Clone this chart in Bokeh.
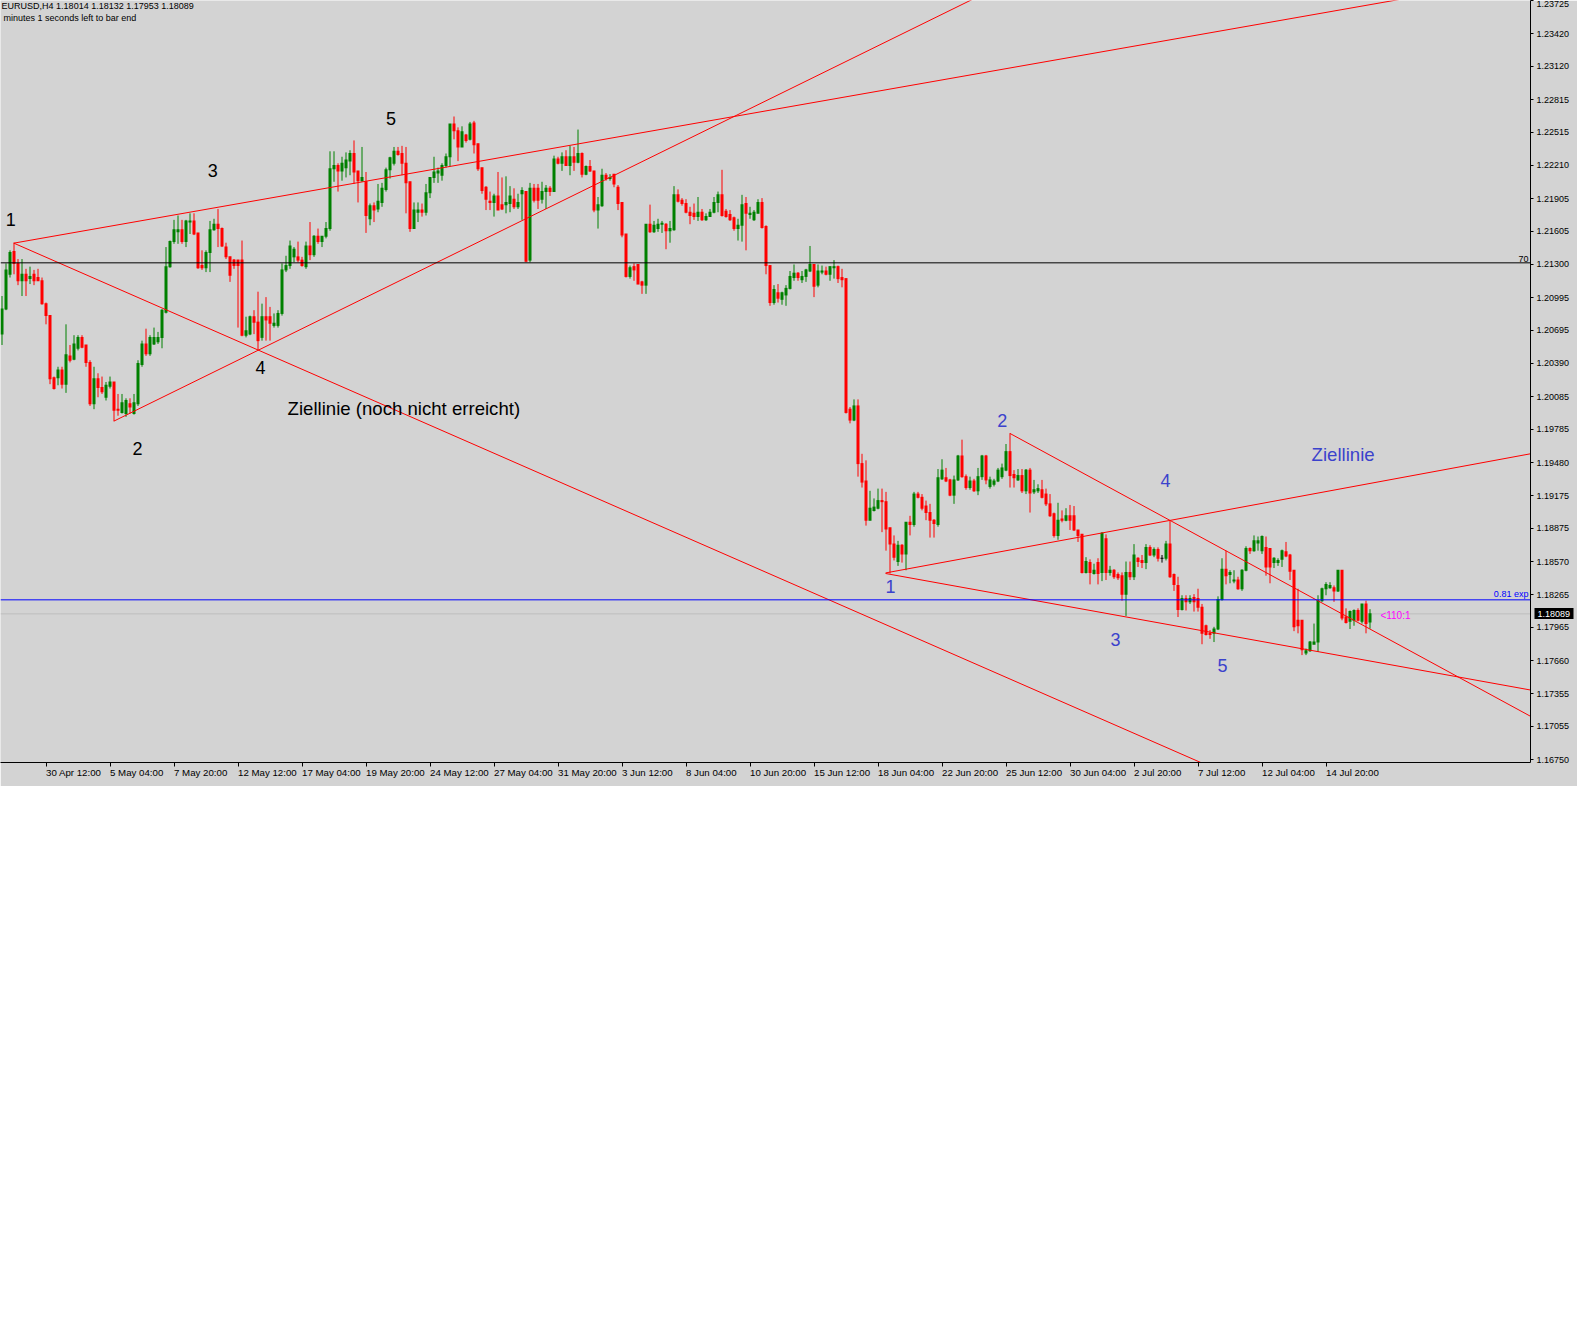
import numpy as np
from bokeh.plotting import figure
from bokeh.models import Range1d, FixedTicker, PrintfTickFormatter, Span, LinearAxis
from bokeh.core.properties import value
from bokeh.embed import file_html
from bokeh.resources import INLINE

# ---------------- data: EURUSD H4 candles (bar index 0..342) ----------------
opens = [
1.2066,1.2089,1.2121,1.2142,1.2131,1.2115,1.2121,1.2117,1.2121,1.2118,
1.2115,1.2094,1.2083,1.2026,1.2026,1.2033,1.2020,1.2046,1.2043,1.2053,
1.2063,1.2056,1.2040,1.2002,1.2025,1.2017,1.2008,1.2018,1.2022,1.1997,
1.1994,1.1993,1.2002,1.1993,1.2002,1.2038,1.2057,1.2048,1.2057,1.2059,
1.2063,1.2086,1.2128,1.2151,1.2160,1.2162,1.2151,1.2169,1.2170,1.2159,
1.2129,1.2127,1.2141,1.2162,1.2167,1.2163,1.2146,1.2137,1.2134,1.2134,
1.2134,1.2065,1.2066,1.2082,1.2077,1.2063,1.2082,1.2082,1.2074,1.2074,
1.2085,1.2125,1.2129,1.2137,1.2137,1.2134,1.2128,1.2147,1.2139,1.2156,
1.2151,1.2156,1.2163,1.2218,1.2221,1.2216,1.2219,1.2225,1.2232,1.2216,
1.2207,1.2206,1.2172,1.2184,1.2181,1.2187,1.2199,1.2217,1.2223,1.2234,
1.2232,1.2223,1.2206,1.2163,1.2178,1.2180,1.2178,1.2196,1.2210,1.2214,
1.2212,1.2221,1.2229,1.2259,1.2253,1.2238,1.2249,1.2245,1.2260,1.2241,
1.2219,1.2201,1.2188,1.2187,1.2193,1.2185,1.2185,1.2186,1.2190,1.2183,
1.2195,1.2197,1.2134,1.2200,1.2200,1.2190,1.2197,1.2200,1.2197,1.2227,
1.2223,1.2229,1.2221,1.2229,1.2224,1.2232,1.2213,1.2220,1.2216,1.2180,
1.2184,1.2212,1.2209,1.2213,1.2201,1.2187,1.2158,1.2119,1.2128,1.2130,
1.2114,1.2111,1.2167,1.2160,1.2163,1.2167,1.2167,1.2161,1.2162,1.2194,
1.2189,1.2186,1.2178,1.2177,1.2174,1.2178,1.2171,1.2174,1.2178,1.2187,
1.2194,1.2179,1.2176,1.2173,1.2163,1.2166,1.2186,1.2176,1.2171,1.2177,
1.2187,1.2165,1.2129,1.2095,1.2104,1.2098,1.2102,1.2108,1.2118,1.2122,
1.2116,1.2119,1.2124,1.2130,1.2111,1.2123,1.2124,1.2121,1.2127,1.2128,
1.2118,1.2117,1.1997,1.1987,1.2000,1.1947,1.1931,1.1895,1.1904,1.1906,
1.1913,1.1912,1.1888,1.1873,1.1857,1.1872,1.1864,1.1893,1.1891,1.1919,
1.1916,1.1908,1.1902,1.1895,1.1891,1.1933,1.1934,1.1932,1.1918,1.1932,
1.1954,1.1935,1.1925,1.1931,1.1922,1.1935,1.1954,1.1926,1.1928,1.1931,
1.1935,1.1941,1.1958,1.1937,1.1932,1.1936,1.1922,1.1941,1.1921,1.1922,
1.1923,1.1919,1.1910,1.1901,1.1881,1.1896,1.1895,1.1899,1.1899,1.1886,
1.1882,1.1847,1.1856,1.1846,1.1856,1.1847,1.1878,1.1847,1.1849,1.1845,
1.1844,1.1827,1.1847,1.1843,1.1860,1.1858,1.1856,1.1870,1.1863,1.1868,
1.1860,1.1860,1.1873,1.1845,1.1835,1.1813,1.1823,1.1820,1.1824,1.1823,
1.1815,1.1798,1.1791,1.1791,1.1795,1.1822,1.1850,1.1845,1.1839,1.1840,
1.1832,1.1849,1.1869,1.1867,1.1874,1.1867,1.1870,1.1869,1.1856,1.1856,
1.1859,1.1866,1.1863,1.1849,1.1803,1.1803,1.1773,1.1775,1.1781,1.1783,
1.1821,1.1832,1.1833,1.1833,1.1830,1.1849,1.1806,1.1802,1.1803,1.1812,
1.1802,1.1818,1.18014]
highs = [
1.2101,1.2131,1.2143,1.2150,1.2135,1.2135,1.2126,1.2128,1.2125,1.2126,
1.2118,1.2095,1.2083,1.2027,1.2036,1.2036,1.2075,1.2056,1.2065,1.2065,
1.2065,1.2056,1.2042,1.2036,1.2030,1.2027,1.2022,1.2027,1.2022,1.2011,
1.2011,1.2007,1.2007,1.2011,1.2042,1.2060,1.2071,1.2065,1.2072,1.2068,
1.2089,1.2146,1.2152,1.2171,1.2175,1.2171,1.2171,1.2177,1.2177,1.2159,
1.2143,1.2143,1.2170,1.2172,1.2181,1.2164,1.2150,1.2137,1.2135,1.2134,
1.2152,1.2082,1.2083,1.2088,1.2105,1.2094,1.2100,1.2091,1.2085,1.2088,
1.2131,1.2138,1.2152,1.2146,1.2151,1.2137,1.2151,1.2169,1.2157,1.2163,
1.2156,1.2169,1.2234,1.2234,1.2223,1.2229,1.2233,1.2235,1.2244,1.2216,
1.2238,1.2215,1.2186,1.2187,1.2204,1.2205,1.2219,1.2229,1.2238,1.2238,
1.2239,1.2238,1.2206,1.2187,1.2187,1.2186,1.2204,1.2210,1.2229,1.2219,
1.2223,1.2232,1.2259,1.2266,1.2256,1.2257,1.2250,1.2261,1.2262,1.2241,
1.2219,1.2202,1.2197,1.2195,1.2215,1.2210,1.2211,1.2202,1.2200,1.2195,
1.2201,1.2197,1.2205,1.2204,1.2204,1.2206,1.2203,1.2202,1.2230,1.2229,
1.2233,1.2235,1.2239,1.2238,1.2254,1.2233,1.2221,1.2226,1.2216,1.2192,
1.2218,1.2214,1.2213,1.2213,1.2203,1.2187,1.2158,1.2129,1.2131,1.2130,
1.2115,1.2167,1.2185,1.2170,1.2172,1.2170,1.2168,1.2170,1.2202,1.2199,
1.2191,1.2190,1.2183,1.2186,1.2192,1.2181,1.2177,1.2181,1.2192,1.2197,
1.2217,1.2181,1.2180,1.2174,1.2172,1.2194,1.2192,1.2183,1.2180,1.2190,
1.2191,1.2166,1.2129,1.2111,1.2112,1.2105,1.2111,1.2124,1.2130,1.2123,
1.2124,1.2126,1.2147,1.2130,1.2130,1.2129,1.2128,1.2128,1.2134,1.2129,
1.2126,1.2117,1.1999,1.2006,1.2006,1.1956,1.1950,1.1922,1.1915,1.1924,
1.1924,1.1921,1.1888,1.1881,1.1876,1.1873,1.1893,1.1899,1.1921,1.1921,
1.1919,1.1913,1.1910,1.1896,1.1942,1.1951,1.1943,1.1933,1.1936,1.1955,
1.1969,1.1937,1.1935,1.1933,1.1943,1.1955,1.1955,1.1935,1.1933,1.1943,
1.1947,1.1965,1.1975,1.1941,1.1942,1.1942,1.1942,1.1943,1.1932,1.1928,
1.1932,1.1924,1.1919,1.1902,1.1911,1.1904,1.1906,1.1909,1.1908,1.1886,
1.1882,1.1861,1.1859,1.1855,1.1860,1.1884,1.1882,1.1853,1.1850,1.1847,
1.1847,1.1857,1.1857,1.1873,1.1861,1.1863,1.1873,1.1872,1.1870,1.1870,
1.1863,1.1876,1.1895,1.1846,1.1843,1.1826,1.1826,1.1826,1.1827,1.1832,
1.1818,1.1799,1.1794,1.1797,1.1825,1.1860,1.1867,1.1849,1.1849,1.1843,
1.1850,1.1871,1.1870,1.1881,1.1880,1.1881,1.1880,1.1869,1.1861,1.1860,
1.1868,1.1875,1.1864,1.1849,1.1832,1.1803,1.1777,1.1784,1.1800,1.1826,
1.1833,1.1838,1.1838,1.1835,1.1849,1.1849,1.1814,1.1812,1.1813,1.1814,
1.1818,1.1821,1.18132]
lows = [
1.2056,1.2088,1.2118,1.2121,1.2111,1.2101,1.2101,1.2112,1.2111,1.2115,
1.2093,1.2075,1.2020,1.2015,1.2019,1.2016,1.2012,1.2040,1.2042,1.2051,
1.2053,1.2036,1.2000,1.1997,1.2008,1.2011,1.2005,1.2016,1.1986,1.1991,
1.1993,1.1990,1.1993,1.1992,1.2000,1.2036,1.2046,1.2046,1.2056,1.2057,
1.2053,1.2085,1.2127,1.2149,1.2149,1.2149,1.2146,1.2158,1.2157,1.2126,
1.2125,1.2123,1.2123,1.2161,1.2146,1.2146,1.2135,1.2114,1.2126,1.2072,
1.2064,1.2063,1.2065,1.2066,1.2051,1.2060,1.2060,1.2060,1.2072,1.2072,
1.2083,1.2123,1.2126,1.2132,1.2132,1.2128,1.2126,1.2134,1.2137,1.2149,
1.2146,1.2154,1.2161,1.2206,1.2197,1.2207,1.2210,1.2212,1.2204,1.2187,
1.2206,1.2159,1.2166,1.2169,1.2178,1.2183,1.2197,1.2209,1.2221,1.2230,
1.2212,1.2177,1.2160,1.2163,1.2169,1.2174,1.2175,1.2191,1.2205,1.2205,
1.2207,1.2219,1.2220,1.2245,1.2225,1.2238,1.2242,1.2244,1.2232,1.2216,
1.2195,1.2180,1.2180,1.2174,1.2180,1.2180,1.2177,1.2178,1.2181,1.2181,
1.2171,1.2132,1.2132,1.2187,1.2181,1.2186,1.2181,1.2193,1.2197,1.2222,
1.2216,1.2221,1.2212,1.2216,1.2223,1.2210,1.2212,1.2215,1.2178,1.2163,
1.2183,1.2207,1.2207,1.2201,1.2180,1.2155,1.2118,1.2117,1.2115,1.2112,
1.2103,1.2103,1.2159,1.2159,1.2160,1.2159,1.2144,1.2150,1.2161,1.2187,
1.2184,1.2177,1.2167,1.2171,1.2170,1.2170,1.2170,1.2174,1.2177,1.2178,
1.2174,1.2173,1.2170,1.2161,1.2152,1.2151,1.2143,1.2172,1.2170,1.2177,
1.2163,1.2121,1.2092,1.2093,1.2095,1.2093,1.2092,1.2107,1.2115,1.2115,
1.2113,1.2114,1.2123,1.2100,1.2109,1.2121,1.2120,1.2115,1.2117,1.2113,
1.2109,1.1993,1.1984,1.1986,1.1935,1.1925,1.1890,1.1895,1.1903,1.1905,
1.1884,1.1867,1.1846,1.1858,1.1853,1.1856,1.1849,1.1881,1.1889,1.1915,
1.1904,1.1895,1.1879,1.1879,1.1889,1.1932,1.1930,1.1917,1.1910,1.1931,
1.1934,1.1923,1.1923,1.1921,1.1918,1.1932,1.1928,1.1924,1.1926,1.1930,
1.1933,1.1940,1.1925,1.1925,1.1931,1.1920,1.1919,1.1902,1.1919,1.1920,
1.1915,1.1908,1.1898,1.1879,1.1877,1.1893,1.1894,1.1886,1.1885,1.1875,
1.1846,1.1846,1.1836,1.1845,1.1836,1.1839,1.1840,1.1844,1.1841,1.1840,
1.1821,1.1807,1.1840,1.1840,1.1852,1.1851,1.1850,1.1862,1.1861,1.1857,
1.1856,1.1858,1.1842,1.1830,1.1806,1.1812,1.1812,1.1818,1.1811,1.1811,
1.1781,1.1789,1.1786,1.1783,1.1794,1.1821,1.1836,1.1837,1.1837,1.1831,
1.1830,1.1848,1.1864,1.1866,1.1867,1.1864,1.1844,1.1837,1.1851,1.1853,
1.1852,1.1861,1.1840,1.1793,1.1791,1.1771,1.1771,1.1774,1.1781,1.1774,
1.1820,1.1826,1.1832,1.1820,1.1829,1.1803,1.1800,1.1795,1.1798,1.1802,
1.1800,1.1791,1.17953]
closes = [
1.2089,1.2125,1.2141,1.2131,1.2115,1.2121,1.2115,1.2119,1.2115,1.2115,
1.2094,1.2083,1.2025,1.2016,1.2033,1.2020,1.2047,1.2042,1.2057,1.2063,
1.2054,1.2040,1.2002,1.2025,1.2017,1.2013,1.2019,1.2022,1.1996,1.1996,
1.2003,1.2005,1.1999,1.2003,1.2039,1.2057,1.2048,1.2063,1.2063,1.2063,
1.2088,1.2128,1.2151,1.2162,1.2162,1.2151,1.2170,1.2170,1.2158,1.2127,
1.2127,1.2141,1.2162,1.2167,1.2163,1.2147,1.2137,1.2120,1.2129,1.2129,
1.2065,1.2069,1.2082,1.2077,1.2060,1.2082,1.2079,1.2076,1.2076,1.2085,
1.2125,1.2129,1.2147,1.2144,1.2134,1.2129,1.2147,1.2139,1.2156,1.2151,
1.2156,1.2163,1.2218,1.2221,1.2216,1.2223,1.2226,1.2232,1.2215,1.2207,
1.2210,1.2175,1.2184,1.2180,1.2188,1.2200,1.2217,1.2228,1.2234,1.2231,
1.2223,1.2205,1.2163,1.2180,1.2180,1.2178,1.2196,1.2210,1.2215,1.2216,
1.2221,1.2229,1.2259,1.2253,1.2238,1.2252,1.2244,1.2259,1.2240,1.2218,
1.2198,1.2190,1.2187,1.2193,1.2180,1.2181,1.2187,1.2193,1.2183,1.2187,
1.2198,1.2133,1.2200,1.2189,1.2189,1.2197,1.2200,1.2197,1.2227,1.2223,
1.2229,1.2221,1.2229,1.2224,1.2232,1.2213,1.2220,1.2216,1.2180,1.2185,
1.2212,1.2209,1.2210,1.2204,1.2186,1.2157,1.2119,1.2127,1.2125,1.2112,
1.2111,1.2167,1.2160,1.2166,1.2167,1.2168,1.2161,1.2163,1.2194,1.2188,
1.2186,1.2178,1.2175,1.2174,1.2178,1.2171,1.2174,1.2178,1.2187,1.2194,
1.2175,1.2174,1.2171,1.2163,1.2166,1.2185,1.2177,1.2177,1.2178,1.2187,
1.2164,1.2129,1.2095,1.2107,1.2099,1.2104,1.2108,1.2119,1.2122,1.2118,
1.2119,1.2125,1.2130,1.2110,1.2124,1.2124,1.2121,1.2128,1.2128,1.2117,
1.2116,1.1994,1.1987,1.2000,1.1947,1.1930,1.1895,1.1906,1.1907,1.1913,
1.1912,1.1887,1.1873,1.1861,1.1872,1.1864,1.1893,1.1891,1.1919,1.1916,
1.1906,1.1902,1.1895,1.1892,1.1934,1.1941,1.1931,1.1918,1.1932,1.1954,
1.1935,1.1925,1.1931,1.1922,1.1935,1.1954,1.1932,1.1932,1.1931,1.1941,
1.1943,1.1958,1.1936,1.1934,1.1936,1.1922,1.1941,1.1920,1.1923,1.1924,
1.1916,1.1910,1.1899,1.1881,1.1895,1.1895,1.1899,1.1895,1.1886,1.1881,
1.1847,1.1857,1.1847,1.1849,1.1846,1.1883,1.1847,1.1849,1.1843,1.1842,
1.1827,1.1847,1.1843,1.1863,1.1857,1.1856,1.1870,1.1863,1.1868,1.1860,
1.1860,1.1873,1.1843,1.1836,1.1813,1.1823,1.1820,1.1823,1.1820,1.1815,
1.1791,1.1790,1.1790,1.1795,1.1822,1.1850,1.1844,1.1847,1.1840,1.1832,
1.1849,1.1869,1.1867,1.1876,1.1876,1.1880,1.1852,1.1852,1.1860,1.1858,
1.1867,1.1862,1.1848,1.1797,1.1798,1.1776,1.1775,1.1783,1.1783,1.1821,
1.1832,1.1836,1.1835,1.1830,1.1849,1.1805,1.1801,1.1811,1.1812,1.1803,
1.1818,1.1800,1.18089]

# time axis: bar index of each labelled tick and its label
x_tick_bars = [11, 27, 43, 59, 75, 91, 107, 123, 139, 155, 171, 187, 203, 219, 235, 251, 267, 283, 299, 315, 331]
x_tick_labels = ["30 Apr 12:00", "5 May 04:00", "7 May 20:00", "12 May 12:00", "17 May 04:00",
                 "19 May 20:00", "24 May 12:00", "27 May 04:00", "31 May 20:00", "3 Jun 12:00",
                 "8 Jun 04:00", "10 Jun 20:00", "15 Jun 12:00", "18 Jun 04:00", "22 Jun 20:00",
                 "25 Jun 12:00", "30 Jun 04:00", "2 Jul 20:00", "7 Jul 12:00", "12 Jul 04:00",
                 "14 Jul 20:00"]
price_ticks = [1.23725, 1.23420, 1.23120, 1.22815, 1.22515, 1.22210, 1.21905, 1.21605, 1.21300,
               1.20995, 1.20695, 1.20390, 1.20085, 1.19785, 1.19480, 1.19175, 1.18875, 1.18570,
               1.18265, 1.17965, 1.17660, 1.17355, 1.17055, 1.16750]

# horizontal levels
level_black = 1.21315
level_blue = 1.18218
last_price = 1.18089

# trend lines: (bar_a, price_a, bar_b, price_b), drawn as rays from point a through b
trend_lines = [
    (2.95, 1.21496, 54.0, 1.21826),
    (2.95, 1.21496, 64.0, 1.20514),
    (27.95, 1.19860, 64.0, 1.20511),
    (220.9, 1.18465, 292.0, 1.18948),
    (220.9, 1.18460, 382.0, 1.17390),
    (252.0, 1.19747, 292.0, 1.18948),
]

# wave labels (bar, price, text)
black_labels = [(2.2, 1.21711, "1"), (33.9, 1.19609, "2"), (52.7, 1.22164, "3"),
                (64.6, 1.20356, "4"), (97.25, 1.22642, "5")]
blue_labels = [(222.1, 1.18341, "1"), (250.05, 1.19869, "2"), (278.4, 1.17854, "3"),
               (290.9, 1.19319, "4"), (305.1, 1.17615, "5")]
note_black = (71.4, 1.19976, "Ziellinie (noch nicht erreicht)")
note_blue = (327.4, 1.19554, "Ziellinie")

# ---------------- figure ----------------
BG = "#D3D3D3"
X0, X1 = -0.375, 382.125
Y0, Y1 = 1.16723, 1.23726
PX = (Y1 - Y0) / 762.0

p = figure(frame_width=1530, frame_height=762, x_range=Range1d(X0, X1), y_range=Range1d(Y0, Y1),
           output_backend="svg", toolbar_location=None, y_axis_location="right",
           min_border_left=0, min_border_top=0, min_border_bottom=0, min_border_right=47,
           background_fill_color=BG, border_fill_color=BG, outline_line_color=None)
p.grid.visible = False

FONT = "Liberation Sans"

xa = p.xaxis[0]
xa.ticker = FixedTicker(ticks=x_tick_bars)
xa.major_label_overrides = {b: t for b, t in zip(x_tick_bars, x_tick_labels)}
xa.major_tick_out = 4
xa.major_tick_in = 0
xa.minor_tick_out = 0
xa.minor_tick_in = 0
xa.major_label_orientation = -1e-9
xa.major_label_standoff = 6
xa.major_label_text_font = FONT
xa.major_label_text_font_size = "9.7px"
xa.major_label_text_color = "black"
xa.axis_line_color = "black"
xa.major_tick_line_color = "black"

ya = p.yaxis[0]
ya.ticker = FixedTicker(ticks=price_ticks)
ya.formatter = PrintfTickFormatter(format="%.5f")
ya.major_tick_out = 3
ya.major_tick_in = 0
ya.minor_tick_out = 0
ya.minor_tick_in = 0
ya.major_label_standoff = 3
ya.major_label_text_font = FONT
ya.major_label_text_font_size = "9px"
ya.major_label_text_color = "black"
ya.axis_line_color = "black"
ya.major_tick_line_color = "black"

# current-price marker on the price scale: a second right axis stacked just outside the
# price axis; its single tick, drawn inwards and thick, is the black box, its label the price
box_axis = LinearAxis(ticker=FixedTicker(ticks=[last_price]), formatter=PrintfTickFormatter(format="%.5f"),
                      axis_line_color=None,
                      major_tick_in=38, major_tick_out=1, major_tick_line_width=11,
                      major_tick_line_color="black", minor_tick_in=0, minor_tick_out=0,
                      major_label_standoff=-36, major_label_text_color="white",
                      major_label_text_font=FONT, major_label_text_font_size="9px")
p.add_layout(box_axis, "right")

# bid line behind candles
p.add_layout(Span(location=last_price, dimension="width", line_color="#BDBDBD", line_width=1, level="underlay"))

# candles
o = np.array(opens); h = np.array(highs); l = np.array(lows); c = np.array(closes)
idx = np.arange(len(o))
colors = np.where(c > o, "#008000", np.where(c < o, "#FF0000", "#000000"))
body_hi = np.maximum(o, c) + PX * 0.5
body_lo = np.minimum(o, c) - PX * 0.5
p.segment(x0=idx, y0=l, x1=idx, y1=h, line_color=list(colors), line_width=1)
p.vbar(x=idx, width=0.75, top=body_hi, bottom=body_lo, fill_color=list(colors), line_color=None)

# horizontal levels
p.add_layout(Span(location=level_black, dimension="width", line_color="black", line_width=1))
p.add_layout(Span(location=level_blue, dimension="width", line_color="#0000FF", line_width=1))

# trend lines (rays to the right edge)
xs0, ys0, xs1, ys1 = [], [], [], []
for (ba, pa, bb, pb) in trend_lines:
    slope = (pb - pa) / (bb - ba)
    xs0.append(ba); ys0.append(pa)
    xs1.append(X1 + 2); ys1.append(pa + slope * (X1 + 2 - ba))
p.segment(x0=xs0, y0=ys0, x1=xs1, y1=ys1, line_color="#FF0000", line_width=1)

# wave labels
p.text(x=[v[0] for v in black_labels], y=[v[1] for v in black_labels], text=[v[2] for v in black_labels],
       text_font=value(FONT), text_font_size="18px", text_color="black",
       text_align="center", text_baseline="middle")
p.text(x=[v[0] for v in blue_labels], y=[v[1] for v in blue_labels], text=[v[2] for v in blue_labels],
       text_font=value(FONT), text_font_size="18px", text_color="#3B42CC",
       text_align="center", text_baseline="middle")
p.text(x=[note_black[0]], y=[note_black[1]], text=[note_black[2]], text_font=value(FONT),
       text_font_size="18.6px", text_color="black", text_align="left", text_baseline="middle")
p.text(x=[note_blue[0]], y=[note_blue[1]], text=[note_blue[2]], text_font=value(FONT),
       text_font_size="18.6px", text_color="#3B42CC", text_align="left", text_baseline="middle")

# level captions
x_right = 381.6
p.text(x=[x_right], y=[level_black], text=["70"], text_font=value(FONT), text_font_size="9px",
       text_color="black", text_align="right", text_baseline="bottom", y_offset=-1)
p.text(x=[x_right], y=[level_blue], text=["0.81 exp"], text_font=value(FONT), text_font_size="9px",
       text_color="#0000FF", text_align="right", text_baseline="bottom", y_offset=-1)
p.text(x=[344.6], y=[1.18074], text=["<110:1"], text_font=value(FONT), text_font_size="10px",
       text_color="#FF00FF", text_align="left", text_baseline="middle")

# header
p.text(x=[-0.1], y=[Y1], text=["EURUSD,H4  1.18014 1.18132 1.17953 1.18089"],
       text_font=value(FONT), text_font_size="9px", text_color="black",
       text_align="left", text_baseline="top")
p.text(x=[0.4], y=[Y1 - PX * 12], text=["minutes 1 seconds left to bar end"],
       text_font=value(FONT), text_font_size="9px", text_color="black",
       text_align="left", text_baseline="top")

open("out.html", "w").write(file_html(p, INLINE))
